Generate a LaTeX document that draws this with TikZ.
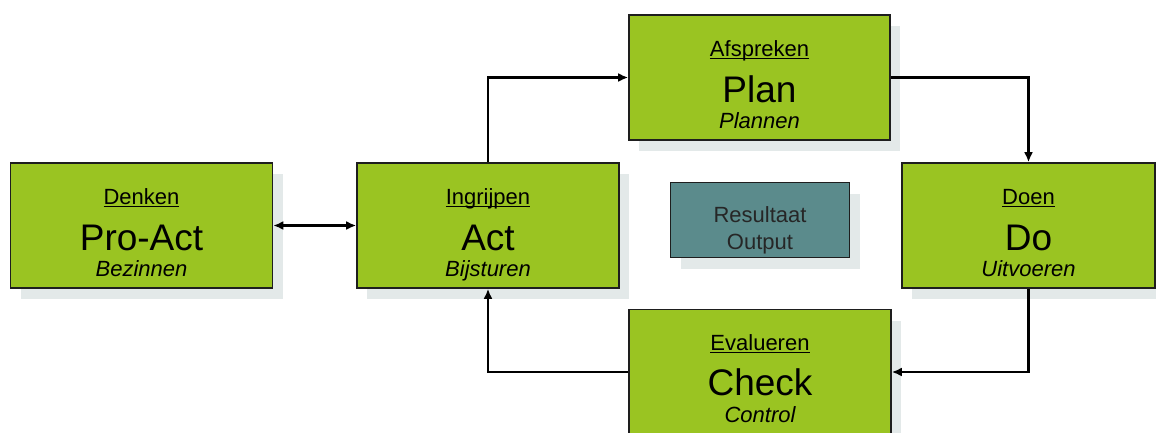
\documentclass[tikz,border=0pt]{standalone}
\usepackage{fontspec}
\setmainfont{Liberation Sans}
\usetikzlibrary{arrows.meta,shadows}
\definecolor{pdcagreen}{HTML}{9AC422}
\definecolor{resultteal}{HTML}{5B8B8C}
\definecolor{shadowgrey}{HTML}{E3E9E9}
\definecolor{boxline}{HTML}{1E1E1E}
\newcommand\ulword[1]{\setbox0\hbox{#1}\rlap{\rule[-3pt]{\wd0}{1.4pt}}\box0}
\tikzset{
  pdcabox/.style={shape=rectangle,draw=boxline,line width=1.6pt,fill=pdcagreen,
    minimum width=262pt,minimum height=125pt,
    drop shadow={shadow xshift=10pt,shadow yshift=-11pt,fill=shadowgrey,opacity=1}},
  resultbox/.style={pdcabox,fill=resultteal,minimum width=179pt,minimum height=75pt},
  toptxt/.style={anchor=base,inner sep=0pt,font=\fontsize{22}{26}\selectfont},
  bigtxt/.style={anchor=base,inner sep=0pt,font=\fontsize{37}{44}\selectfont},
  subtxt/.style={anchor=base,inner sep=0pt,font=\fontsize{22}{26}\selectfont\itshape},
  restxt/.style={anchor=base,inner sep=0pt,text=black!85,font=\fontsize{22}{26}\selectfont},
  conn/.style={line width=2.6pt,>={Latex[length=10pt,width=9pt]}}
}
\begin{document}
\begin{tikzpicture}[x=1pt,y=-1pt]
\useasboundingbox (0,0) rectangle (1156,432);
% boxes
\node(proact) at (141.5,225.5)[pdcabox]                   {};
\node(act)    at (488,225.5)[pdcabox]                     {};
\node(plan)   at (759.5,77.5)[pdcabox,minimum width=261pt] {};
\node(do)     at (1028.5,225.5)[pdcabox,minimum width=253pt] {};
\node(check)  at (760,372)[pdcabox]                       {};
\node(result) at (760,220)[resultbox]                     {};
% texts
\node(proactTop) at (141.5,204)[toptxt] {\ulword{Denken}};
\node(proactBig) at (141.5,250)[bigtxt] {Pro-Act};
\node(proactSub) at (141.5,276)[subtxt] {Bezinnen};
\node(actTop)    at (488,204)[toptxt]   {\ulword{Ingrijpen}};
\node(actBig)    at (488,250)[bigtxt]   {Act};
\node(actSub)    at (488,276)[subtxt]   {Bijsturen};
\node(planTop)   at (759.5,56)[toptxt]  {\ulword{Afspreken}};
\node(planBig)   at (759.5,102)[bigtxt] {Plan};
\node(planSub)   at (759.5,128)[subtxt] {Plannen};
\node(doTop)     at (1028.5,204)[toptxt] {\ulword{Doen}};
\node(doBig)     at (1028.5,250)[bigtxt] {Do};
\node(doSub)     at (1028.5,276)[subtxt] {Uitvoeren};
\node(checkTop)  at (760,350)[toptxt]   {\ulword{Evalueren}};
\node(checkBig)  at (760,395.5)[bigtxt] {Check};
\node(checkSub)  at (760,422)[subtxt]   {Control};
\node(resultTop) at (760,222)[restxt]   {Resultaat};
\node(resultBot) at (760,249)[restxt]   {Output};
% connectors
\draw[conn,<->] (proact) -- (act);
\draw[conn,->]  (act) |- (plan);
\draw[conn,->]  (plan) -| (do);
\draw[conn,->]  (do) |- (check);
\draw[conn,->]  (check) -| (act);
\end{tikzpicture}
\end{document}
